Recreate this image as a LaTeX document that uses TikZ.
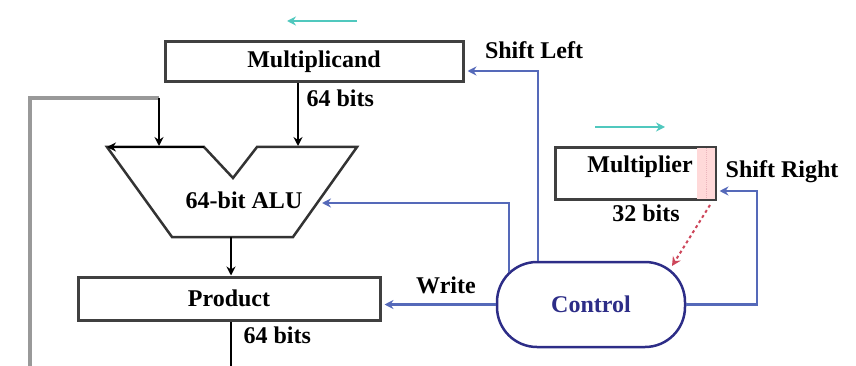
\documentclass[tikz,border=0pt]{standalone}
\usepackage{fontspec}
\setmainfont{Liberation Serif}
\usetikzlibrary{arrows.meta}
\definecolor{ctlblue}{RGB}{85,105,185}
\definecolor{navy}{RGB}{45,45,135}
\definecolor{hintcyan}{RGB}{80,200,190}
\definecolor{lsbred}{RGB}{205,70,90}

\begin{document}
\begin{tikzpicture}[>={Stealth[length=9pt, width=9pt]}, x=1pt, y=-1pt,
    font=\fontsize{24}{28}\selectfont\bfseries,
    reg/.style={draw=black!75, line width=3pt, fill=white, inner sep=0pt},
    wire/.style={line width=2pt},
    feed/.style={draw=black!40, line width=4pt},
    ctl/.style={draw=ctlblue, line width=2.5pt, shorten >=3pt},
    hint/.style={draw=hintcyan, line width=2.5pt},
    lsb/.style={draw=lsbred, line width=2pt, dashed},
    ctrlbox/.style={draw=navy, text=navy, line width=2.5pt, rounded corners=40pt,
        minimum width=188pt, minimum height=85pt, inner sep=0pt}]
    \useasboundingbox (0,0) rectangle (856,366);

    % Multiplicand
    \node[reg, minimum width=298pt, minimum height=40pt] (mcand) at (314,62) {Multiplicand};
    \node[anchor=west] (mcbits) at (303,98) {64 bits};
    \coordinate (lt) at (357,21);
    \coordinate (lh) at (287,21);
    \draw[hint,->] (lt) -- (lh);

    % ALU
    \coordinate (a1) at (107,147);
    \coordinate (a2) at (204,147);
    \coordinate (a3) at (233,178);
    \coordinate (a4) at (257,147);
    \coordinate (a5) at (357,147);
    \coordinate (a6) at (293,237);
    \coordinate (a7) at (172,237);
    \draw[black!80, line width=2.5pt, line join=miter] (a1) -- (a2) -- (a3) -- (a4) -- (a5) -- (a6) -- (a7) -- cycle;
    \draw[wire,->] (a2) -- (a1);
    \node (alu) at (244,200) {64-bit ALU};

    % Multiplicand into ALU
    \coordinate (aluR) at (298,146);
    \draw[wire,->] (mcand.south -| aluR) -- (aluR);

    % Product fed back
    \coordinate (fb0) at (30,366);
    \coordinate (fb1) at (159,98);
    \coordinate (aluL) at (159,146);
    \draw[feed] (fb0) |- (fb1);
    \draw[wire,->] (fb1) -- (aluL);

    % Product
    \node[reg, minimum width=302pt, minimum height=43pt] (prod) at (229,298.5) {Product};
    \coordinate (aluout) at (231,237);
    \draw[wire,->] (aluout) -- (prod.north -| aluout);
    \coordinate (pout) at (231,366);
    \draw[wire] (prod.south -| pout) -- (pout);
    \node[anchor=west] (pbits) at (240,335) {64 bits};

    % Multiplier
    \node[reg, minimum width=160pt, minimum height=51pt] (mplier) at (635,173.5) {};
    \fill[pink!60] ([xshift=-20pt,yshift=-1.5pt]mplier.north east) rectangle ([xshift=-1.5pt,yshift=1.5pt]mplier.south east);
    \draw[lsbred!40, line width=1pt, densely dotted] ([xshift=-10pt,yshift=-2pt]mplier.north east) -- ([xshift=-10pt,yshift=2pt]mplier.south east);
    \node (mptext) at (640,167) {Multiplier};
    \node (mpbits) at (646,213) {32 bits};
    \coordinate (rt) at (595,127);
    \coordinate (rh) at (665,127);
    \draw[hint,->] (rt) -- (rh);

    % Control
    \node[ctrlbox] (ctrl) at (591,304.5) {Control};

    % Shift Left
    \coordinate (sl) at (538,71);
    \draw[ctl,->] (ctrl.north -| sl) -- (sl) -- (sl -| mcand.east);
    \node (shl) at (534,50) {Shift Left};

    % ALU control
    \coordinate (wa) at (509,272);
    \coordinate (aluin) at (319,203);
    \draw[ctl,->] (wa) |- (aluin);

    % Write
    \draw[ctl,->] (ctrl.west) -- (ctrl.west -| prod.east);
    \node (wr) at (446,285) {Write};

    % Shift Right
    \coordinate (sr) at (757,191);
    \draw[ctl,->] (ctrl.east) -| (sr) -- (sr -| mplier.east);
    \node (shr) at (782,172) {Shift Right};

    % Multiplier bit 0 to control
    \coordinate (mq) at (710,205);
    \coordinate (cin) at (672,266);
    \draw[lsb,->] (mq) -- (cin);
\end{tikzpicture}
\end{document}
